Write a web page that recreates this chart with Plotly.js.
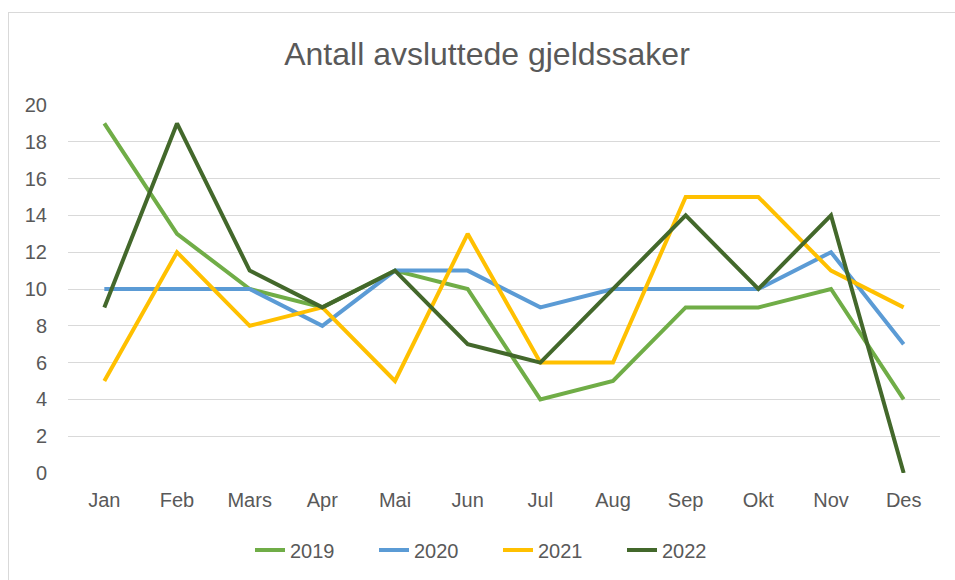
<!DOCTYPE html>
<html><head><meta charset="utf-8">
<script src="https://cdn.plot.ly/plotly-3.0.1.min.js"></script>
<style>
body{margin:0;padding:0;background:#fff;}
#wrap{position:relative;width:955px;height:580px;}
#frame{position:absolute;left:8px;top:12px;width:960px;height:600px;border-left:1px solid #d9d9d9;border-top:1px solid #d9d9d9;}
#chart{position:absolute;left:0;top:0;width:955px;height:580px;}
</style></head>
<body><div id="wrap"><div id="frame"></div><div id="chart"></div></div>
<script>
const months = ["Jan","Feb","Mars","Apr","Mai","Jun","Jul","Aug","Sep","Okt","Nov","Des"];
const y2019 = [19,13,10,9,11,10,4,5,9,9,10,4];
const y2020 = [10,10,10,8,11,11,9,10,10,10,12,7];
const y2021 = [5,12,8,9,5,13,6,6,15,15,11,9];
const y2022 = [9,19,11,9,11,7,6,10,14,10,14,0];
const names = ["2019","2020","2021","2022"];
const colors = ["#70AD47","#5B9BD5","#FFC000","#43682B"];
const series = [y2019,y2020,y2021,y2022];
const traces = series.map((s,i)=>({x:months,y:s,type:'scatter',mode:'lines',name:names[i],
  line:{color:colors[i],width:4}}));
const font = "Liberation Sans, Arial, sans-serif";
Plotly.newPlot('chart',traces,{
  width:955,height:580,
  paper_bgcolor:'rgba(0,0,0,0)',plot_bgcolor:'rgba(0,0,0,0)',
  margin:{l:68,r:15,t:105,b:107},
  font:{family:font,color:'#595959',size:20},
  title:{text:"Antall avsluttede gjeldssaker",font:{family:font,size:32,color:'#595959'},
    xref:'container',x:487/955,xanchor:'center',yref:'container',y:1-54/580,yanchor:'middle'},
  xaxis:{type:'category',range:[-0.5,11.5],showgrid:false,zeroline:false,showline:false,
    ticks:'',ticklabelstandoff:13,tickfont:{size:20,color:'#595959'}},
  yaxis:{range:[0,20],dtick:2,tick0:0,showgrid:true,gridcolor:'#d9d9d9',gridwidth:1,
    zeroline:false,showline:false,ticks:'',ticklabelstandoff:20,tickfont:{size:20,color:'#595959'}},
  showlegend:true,
  legend:{orientation:'h',xref:'container',x:250/955,xanchor:'left',yref:'container',y:1-550/580,yanchor:'middle',
    font:{size:20,color:'#595959'},itemwidth:30,entrywidth:79,entrywidthmode:'pixels',traceorder:'normal'},
  hovermode:false
},{displayModeBar:false,staticPlot:true});
</script></body></html>
